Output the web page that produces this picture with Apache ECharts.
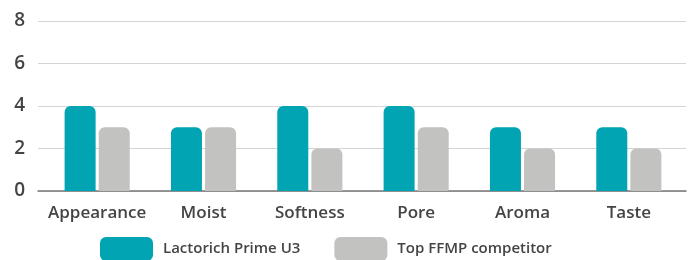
<!DOCTYPE html>
<html>
<head>
<meta charset="utf-8">
<script src="https://cdn.jsdelivr.net/npm/echarts@6/dist/echarts.min.js"></script>
<style>
html, body { margin: 0; padding: 0; background: #fff; }
#main { width: 694px; height: 260px; }
</style>
</head>
<body>
<div id="main"></div>
<script>
var categories = ['Appearance', 'Moist', 'Softness', 'Pore', 'Aroma', 'Taste'];
var seriesNames = ['Lactorich Prime U3', 'Top FFMP competitor'];
var lactorich = [4, 3, 4, 4, 3, 3];
var competitor = [3, 3, 2, 3, 2, 2];
var yTicks = [0, 2, 4, 6, 8];

var textColor = '#444';
var fontFam = '"Open Sans", sans-serif';

var myChart = echarts.init(document.getElementById('main'));

var option = {
    animation: false,
    legend: {
        data: seriesNames,
        left: 95,
        top: 232,
        itemWidth: 53,
        itemHeight: 24,
        itemGap: 34,
        icon: 'roundRect',
        textStyle: { color: textColor, fontSize: 15, fontWeight: 600, fontFamily: fontFam, padding: [0, 0, 0, 5] }
    },
    grid: [
        { left: 38, right: 8, top: 21, bottom: 69 },  // background: gridlines
        { left: 44, right: 12, top: 21, bottom: 69 }  // bars
    ],
    xAxis: [
        {
            gridIndex: 0,
            type: 'category',
            data: categories,
            axisLine: { lineStyle: { color: '#777', width: 1.5 } },
            axisTick: { show: false },
            axisLabel: { show: false }
        },
        {
            gridIndex: 1,
            type: 'category',
            data: categories,
            axisLine: { show: false },
            axisTick: { show: false },
            axisLabel: { interval: 0, color: textColor, fontSize: 17, fontWeight: 600, fontFamily: fontFam, margin: 14 }
        }
    ],
    yAxis: [
        {
            gridIndex: 0,
            type: 'value',
            min: 0,
            max: 8,
            interval: 2,
            axisLine: { show: false },
            axisTick: { show: false },
            splitLine: { lineStyle: { color: '#d4d4d4', width: 1 } },
            axisLabel: {
                color: textColor, fontSize: 19, fontWeight: 600, fontFamily: fontFam, margin: 13,
                formatter: function (v) { return yTicks.indexOf(v) >= 0 ? String(v) : ''; }
            }
        },
        {
            gridIndex: 1,
            type: 'value',
            min: 0,
            max: 8,
            interval: 2,
            show: false
        }
    ],
    series: [
        {
            name: seriesNames[0],
            type: 'bar',
            xAxisIndex: 1,
            yAxisIndex: 1,
            data: lactorich,
            barWidth: 31,
            barGap: '10%',
            itemStyle: { color: '#00a4b3', borderRadius: [6, 6, 0, 0] }
        },
        {
            name: seriesNames[1],
            type: 'bar',
            xAxisIndex: 1,
            yAxisIndex: 1,
            data: competitor,
            barWidth: 31,
            barGap: '10%',
            itemStyle: { color: '#c2c2c0', borderRadius: [6, 6, 0, 0] }
        }
    ]
};
myChart.setOption(option);
</script>
</body>
</html>
